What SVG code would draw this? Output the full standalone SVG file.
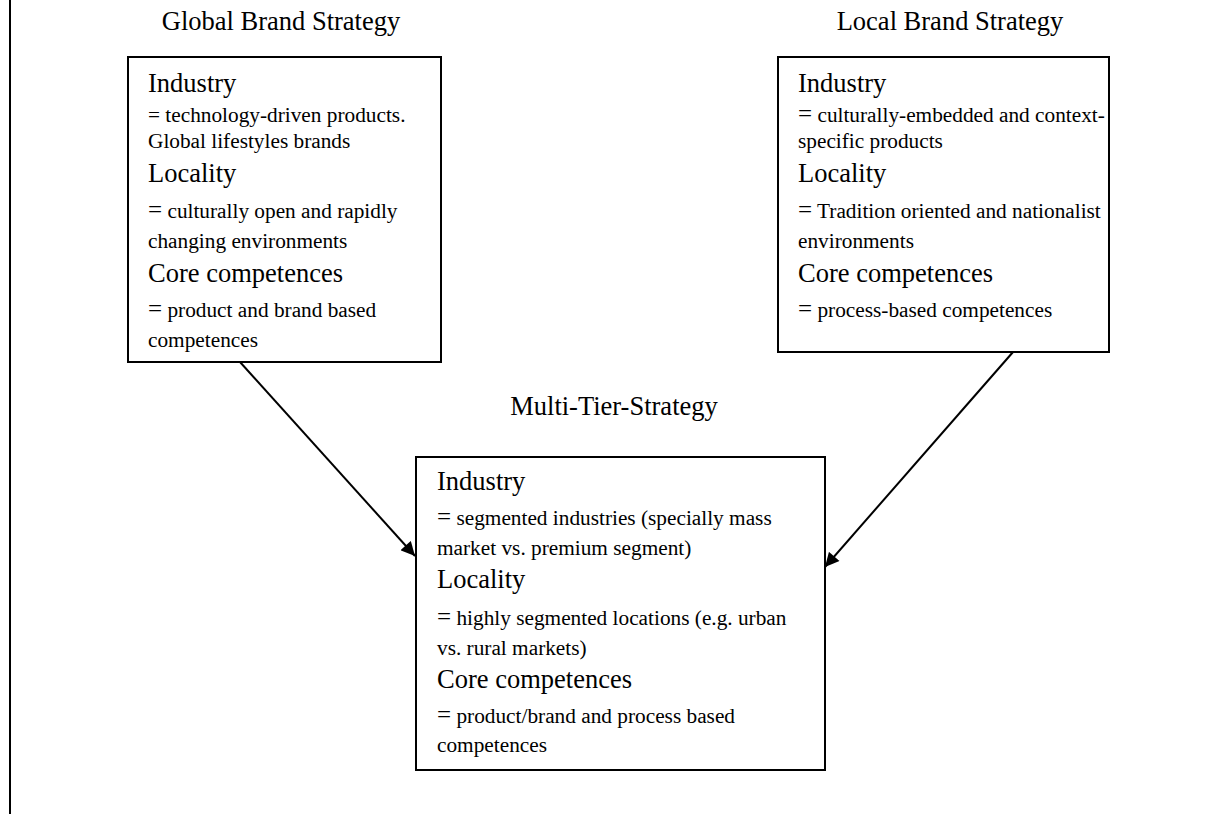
<svg xmlns="http://www.w3.org/2000/svg" width="1218" height="814" viewBox="0 0 1218 814">
  <style>
    .title { font-size: 26.5px; text-anchor: middle; }
    .head { font-size: 26.5px; }
    .body { font-size: 21.3px; }
    .eq { font-size: 25px; }
    .box { fill: #fff; stroke: #000; stroke-width: 2; }
    .conn { stroke: #000; stroke-width: 2; fill: none; }
  </style>
  <defs>
    <marker id="arrow" viewBox="0 0 10 10" refX="10" refY="5" markerWidth="15" markerHeight="14" markerUnits="userSpaceOnUse" orient="auto">
      <path d="M0,0 L10,5 L0,10 z" fill="#000"/>
    </marker>
  </defs>

  <rect width="1218" height="814" fill="#fff"/>

  <!-- left margin rule -->
  <line x1="10" y1="0" x2="10" y2="814" stroke="#000" stroke-width="2"/>

  <!-- connectors -->
  <g id="connectors">
    <line class="conn" x1="240" y1="362" x2="415" y2="556" marker-end="url(#arrow)"/>
    <line class="conn" x1="1013" y1="352" x2="825" y2="567" marker-end="url(#arrow)"/>
  </g>

  <g font-family="Liberation Serif, Times New Roman, serif" fill="#000">
  <!-- Global brand strategy -->
  <g id="global">
    <text class="title" x="281" y="30">Global Brand Strategy</text>
    <rect class="box" x="128" y="57" width="313" height="305"/>
    <text class="head" x="148" y="92">Industry</text>
    <text class="body" x="148" y="122">= technology-driven products.</text>
    <text class="body" x="148" y="148">Global lifestyles brands</text>
    <text class="head" x="148" y="182">Locality</text>
    <text class="body" x="148" y="218"><tspan class="eq">=</tspan> culturally open and rapidly</text>
    <text class="body" x="148" y="248">changing environments</text>
    <text class="head" x="148" y="282">Core competences</text>
    <text class="body" x="148" y="317"><tspan class="eq">=</tspan> product and brand based</text>
    <text class="body" x="148" y="347">competences</text>
  </g>

  <!-- Local brand strategy -->
  <g id="local">
    <text class="title" x="950" y="30">Local Brand Strategy</text>
    <rect class="box" x="778" y="57" width="331" height="295"/>
    <text class="head" x="798" y="92">Industry</text>
    <text class="body" x="798" y="122"><tspan class="eq">=</tspan> culturally-embedded and context-</text>
    <text class="body" x="798" y="148">specific products</text>
    <text class="head" x="798" y="182">Locality</text>
    <text class="body" x="798" y="218"><tspan class="eq">=</tspan> Tradition oriented and nationalist</text>
    <text class="body" x="798" y="248">environments</text>
    <text class="head" x="798" y="282">Core competences</text>
    <text class="body" x="798" y="317"><tspan class="eq">=</tspan> process-based competences</text>
  </g>

  <!-- Multi-tier strategy -->
  <g id="multi">
    <text class="title" x="614" y="415">Multi-Tier-Strategy</text>
    <rect class="box" x="416" y="457" width="409" height="313"/>
    <text class="head" x="437" y="490">Industry</text>
    <text class="body" x="437" y="525"><tspan class="eq">=</tspan> segmented industries (specially mass</text>
    <text class="body" x="437" y="555">market vs. premium segment)</text>
    <text class="head" x="437" y="588">Locality</text>
    <text class="body" x="437" y="625"><tspan class="eq">=</tspan> highly segmented locations (e.g. urban</text>
    <text class="body" x="437" y="655">vs. rural markets)</text>
    <text class="head" x="437" y="688">Core competences</text>
    <text class="body" x="437" y="723"><tspan class="eq">=</tspan> product/brand and process based</text>
    <text class="body" x="437" y="752">competences</text>
  </g>
  </g>
</svg>
